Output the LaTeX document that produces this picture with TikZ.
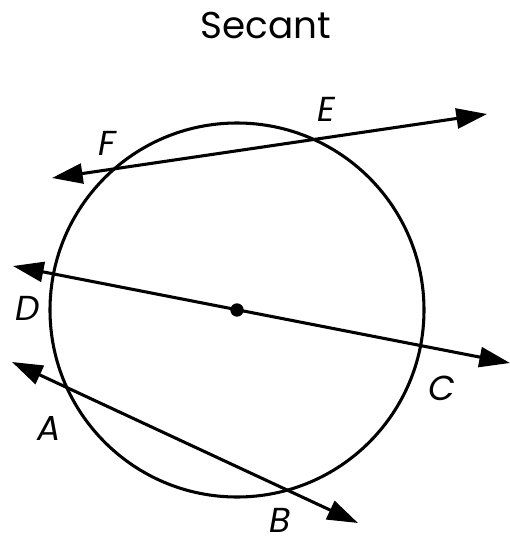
\documentclass[tikz,border=0pt]{standalone}
\usepackage{fontspec}
\setmainfont{Poppins}
\usetikzlibrary{arrows.meta}
\begin{document}
\begin{tikzpicture}[x=0.75pt,y=-0.75pt,
  secline/.style={line width=2.3pt,{Triangle[length=23pt,width=15pt]}-{Triangle[length=23pt,width=15pt]}},
  lbl/.style={font=\fontsize{26}{30}\selectfont\itshape,inner sep=0pt,anchor=base}]
\useasboundingbox (0,0) rectangle (510,547);
\node[font=\fontsize{28}{32}\selectfont,inner sep=0pt,anchor=base] (title) at (266,38) {Secant};
\node[circle,draw,line width=2.3pt,minimum size=374*0.75pt,inner sep=0pt] (circ) at (237,310) {};
\node[circle,fill,minimum size=10pt,inner sep=0pt] (ctr) at (237,310) {};
\coordinate (tf) at (52,178);
\coordinate (te) at (487,114);
\coordinate (td) at (13,266);
\coordinate (tc) at (510,363);
\coordinate (ta) at (12,362);
\coordinate (tb) at (358,523);
\draw[secline] (tf) -- (te);
\draw[secline] (td) -- (tc);
\draw[secline] (ta) -- (tb);
\node[lbl] (F) at (107,155) {F};
\node[lbl] (E) at (326,121) {E};
\node[lbl] (D) at (28,320) {D};
\node[lbl] (C) at (442,400) {C};
\node[lbl] (A) at (49,440) {A};
\node[lbl] (B) at (280,532) {B};
\end{tikzpicture}
\end{document}
